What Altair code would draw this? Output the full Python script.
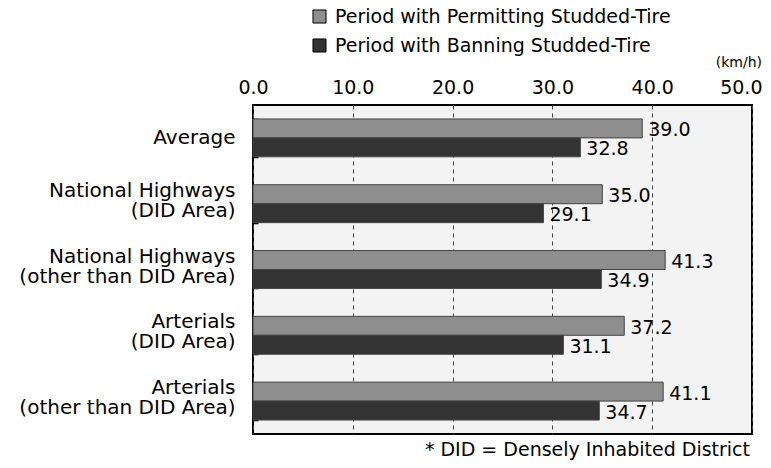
import altair as alt
import pandas as pd

categories = [
    "Average",
    "National Highways|(DID Area)",
    "National Highways|(other than DID Area)",
    "Arterials|(DID Area)",
    "Arterials|(other than DID Area)",
]
series = ["Period with Permitting Studded-Tire", "Period with Banning Studded-Tire"]
permit = [39.0, 35.0, 41.3, 37.2, 41.1]
ban = [32.8, 29.1, 34.9, 31.1, 34.7]
x_ticks = [0, 10, 20, 30, 40, 50]
unit_label = "(km/h)"
footnote = "* DID = Densely Inhabited District"
colors = ["#8e8e8e", "#333333"]

rows = []
for c, p, b in zip(categories, permit, ban):
    rows.append({"cat": c, "series": series[0], "value": p})
    rows.append({"cat": c, "series": series[1], "value": b})
df = pd.DataFrame(rows)

FONT = "DejaVu Sans"

y_scale = alt.Scale(paddingInner=0.424, paddingOuter=0.212)
y_enc = alt.Y(
    "cat:N",
    sort=categories,
    scale=y_scale,
    axis=alt.Axis(
        orient="left",
        title=None,
        labelExpr="split(datum.label, '|')",
        labelFont=FONT,
        labelFontSize=20,
        labelColor="black",
        labelPadding=18,
        labelLineHeight=20,
        labelOffset=alt.condition("indexof(datum.value, '|') < 0", alt.value(0), alt.value(-13)),
        ticks=False,
        domain=False,
        labelLimit=400,
    ),
)
y_tick_enc = alt.Y(
    "cat:N",
    sort=categories,
    scale=y_scale,
    axis=alt.Axis(
        orient="left",
        title=None,
        labels=False,
        ticks=True,
        tickBand="extent",
        tickSize=5,
        tickWidth=1.5,
        tickColor="black",
        offset=-5,
        domain=False,
        grid=False,
    ),
)
x_enc = alt.X(
    "value:Q",
    scale=alt.Scale(domain=[0, 50], nice=False, zero=True),
    axis=alt.Axis(
        orient="top",
        values=x_ticks,
        format=".1f",
        title=None,
        labelFont=FONT,
        labelFontSize=19,
        labelColor="black",
        labelPadding=8,
        labelFlush=False,
        labelAlign=alt.condition("datum.value == 50", alt.value("right"), alt.value("center")),
        labelOffset=alt.condition("datum.value == 50", alt.value(10), alt.value(0)),
        ticks=False,
        domain=False,
        grid=True,
        gridDash=[4, 4],
        gridColor="#444444",
        gridWidth=1,
    ),
)
yoff = alt.YOffset("series:N", sort=series)
color = alt.Color(
    "series:N",
    sort=series,
    scale=alt.Scale(domain=series, range=colors),
    legend=alt.Legend(
        title=None,
        orient="none",
        legendX=57,
        legendY=-98,
        direction="vertical",
        symbolType="square",
        symbolSize=170,
        symbolStrokeColor="black",
        symbolStrokeWidth=1,
        labelFont=FONT,
        labelFontSize=19,
        labelColor="black",
        labelOffset=6,
        rowPadding=9,
        labelLimit=600,
    ),
)

bars = alt.Chart(df).mark_bar(stroke="#444444", strokeWidth=1).encode(
    x=x_enc, y=y_enc, yOffset=yoff, color=color
)
labels = alt.Chart(df).mark_text(
    align="left", baseline="middle", dx=6, dy=2, font=FONT, fontSize=19, color="black"
).encode(
    x=x_enc, y=y_tick_enc, yOffset=yoff, text=alt.Text("value:Q", format=".1f")
)
unit = alt.Chart(pd.DataFrame({"t": [unit_label]})).mark_text(
    align="right", baseline="middle", font=FONT, fontSize=14, color="black"
).encode(x=alt.value(509), y=alt.value(-42), text="t:N")
note = alt.Chart(pd.DataFrame({"t": [footnote]})).mark_text(
    align="right", baseline="alphabetic", font=FONT, fontSize=19, color="black"
).encode(x=alt.value(497), y=alt.value(351), text="t:N")

chart = (
    alt.layer(bars, labels, unit, note)
    .resolve_axis(y="independent")
    .properties(
        width=499,
        height=329,
        padding={"left": 245, "top": 97, "right": 11, "bottom": 26},
        autosize="none",
    )
    .configure_view(fill="#f3f3f3", stroke="black", strokeWidth=2)
)

chart.save("out.html", embed_options={"renderer": "svg", "actions": False})
